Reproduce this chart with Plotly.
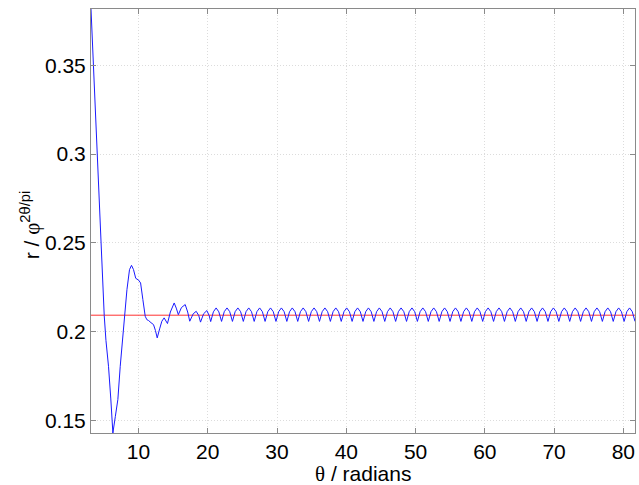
import numpy as np
import plotly.graph_objects as go

# Early (transient) part of the curve
theta_early = [3.1416, 3.50, 3.99, 4.65, 5.05, 5.30, 5.67, 6.00, 6.30, 6.65, 7.02, 7.36,
               7.69, 7.84, 7.98, 8.33, 8.70, 8.99, 9.28, 9.60, 10.00, 10.30, 10.63, 10.97,
               11.20, 11.45, 11.80, 12.17, 12.45, 12.70, 13.05, 13.37, 13.70, 14.18, 14.60,
               15.15, 15.45, 15.75, 16.20, 16.74, 17.10, 17.40, 17.90, 18.33, 18.70, 18.95,
               19.40, 19.87, 20.20]
r_early = [0.3818, 0.350, 0.300, 0.250, 0.209, 0.195, 0.1804, 0.162, 0.1428, 0.152, 0.1617, 0.1804,
           0.1955, 0.202, 0.209, 0.2236, 0.2349, 0.2373, 0.2349, 0.2300, 0.2290, 0.2274, 0.2180, 0.2086,
           0.2067, 0.2062, 0.2050, 0.2039, 0.2005, 0.1964, 0.2015, 0.2058, 0.2077, 0.2045, 0.2110,
           0.2161, 0.2132, 0.2095, 0.2135, 0.2152, 0.2110, 0.2058, 0.2100, 0.2114, 0.2090, 0.2053,
           0.2100, 0.2118, 0.2090]

# Steady oscillation, sampled every pi/8 from 6.5*pi to 26*pi
steady_start, steady_end = 52, 208  # in units of pi/8
r_steady = [
    0.2056, 0.2111, 0.2133, 0.2111, 0.2057, 0.2112, 0.2133, 0.2112,
    0.2057, 0.2112, 0.2133, 0.2112, 0.2057, 0.2112, 0.2133, 0.2112,
    0.2057, 0.2112, 0.2133, 0.2112, 0.2057, 0.2112, 0.2133, 0.2112,
    0.2057, 0.2112, 0.2133, 0.2112, 0.2057, 0.2112, 0.2133, 0.2112,
    0.2057, 0.2112, 0.2133, 0.2112, 0.2057, 0.2112, 0.2133, 0.2112,
    0.2057, 0.2112, 0.2133, 0.2112, 0.2057, 0.2112, 0.2133, 0.2112,
    0.2057, 0.2112, 0.2133, 0.2112, 0.2057, 0.2112, 0.2133, 0.2112,
    0.2057, 0.2112, 0.2133, 0.2112, 0.2057, 0.2112, 0.2133, 0.2112,
    0.2057, 0.2112, 0.2133, 0.2112, 0.2057, 0.2112, 0.2133, 0.2112,
    0.2057, 0.2112, 0.2133, 0.2112, 0.2057, 0.2112, 0.2133, 0.2112,
    0.2057, 0.2112, 0.2133, 0.2112, 0.2057, 0.2112, 0.2133, 0.2112,
    0.2057, 0.2112, 0.2133, 0.2112, 0.2057, 0.2112, 0.2133, 0.2112,
    0.2057, 0.2112, 0.2133, 0.2112, 0.2057, 0.2112, 0.2133, 0.2112,
    0.2057, 0.2112, 0.2133, 0.2112, 0.2057, 0.2112, 0.2133, 0.2112,
    0.2057, 0.2112, 0.2133, 0.2112, 0.2057, 0.2112, 0.2133, 0.2112,
    0.2057, 0.2112, 0.2133, 0.2112, 0.2057, 0.2112, 0.2133, 0.2112,
    0.2057, 0.2112, 0.2133, 0.2112, 0.2057, 0.2112, 0.2133, 0.2112,
    0.2057, 0.2112, 0.2133, 0.2112, 0.2057, 0.2112, 0.2133, 0.2112,
    0.2057, 0.2112, 0.2133, 0.2112, 0.2057, 0.2112, 0.2133, 0.2112,
    0.2057, 0.2112, 0.2133, 0.2112,
    0.2057,
]

ref_level = 0.2092
x_range = [np.pi, 26 * np.pi]
y_range = [0.1428, 0.3818]
x_ticks = [10, 20, 30, 40, 50, 60, 70, 80]
y_ticks = [0.15, 0.2, 0.25, 0.3, 0.35]
y_ticklabels = ["0.15", "0.2", "0.25", "0.3", "0.35"]
x_title = '<span style="font-family:Liberation Serif">θ</span> / radians'
y_title = 'r / <span style="font-family:Liberation Serif">φ</span><sup>2θ/pi</sup>'

theta_steady = list(np.arange(steady_start, steady_end + 1) * np.pi / 8)
theta = list(theta_early) + theta_steady
r = list(r_early) + r_steady

fig = go.Figure()
fig.add_trace(go.Scatter(x=x_range, y=[ref_level, ref_level], mode="lines",
                         line=dict(color="#ff3030", width=1), showlegend=False))
fig.add_trace(go.Scatter(x=theta, y=r, mode="lines",
                         line=dict(color="#1a1aff", width=1), showlegend=False))

font = dict(family="Liberation Sans, Arial", size=21, color="#000")
axis_common = dict(
    showline=True, linecolor="#8a8a8a", linewidth=1, mirror="ticks",
    ticks="inside", ticklen=5, tickcolor="#8a8a8a",
    showgrid=True, gridcolor="#dcdcdc", griddash="1px,2px", gridwidth=1,
    zeroline=False, automargin=False, ticklabeloverflow="allow",
    tickfont=font,
)

fig.update_layout(
    width=639, height=485,
    margin=dict(l=91, r=4, t=9, b=52),
    plot_bgcolor="white", paper_bgcolor="white",
    xaxis=dict(range=x_range, tickvals=x_ticks, **axis_common),
    yaxis=dict(range=y_range, tickvals=y_ticks, ticktext=y_ticklabels, **axis_common),
    annotations=[
        dict(text=x_title, xref="paper", yref="paper", x=0.5, y=-0.096,
             xanchor="center", yanchor="middle", showarrow=False, font=font),
        dict(text=y_title, xref="paper", yref="paper", x=-0.112, y=0.49,
             xanchor="center", yanchor="middle", showarrow=False, font=font,
             textangle=-90),
    ],
)

fig.write_html("out.html", config={"displayModeBar": False},
               post_script="document.body.style.margin='0';")
